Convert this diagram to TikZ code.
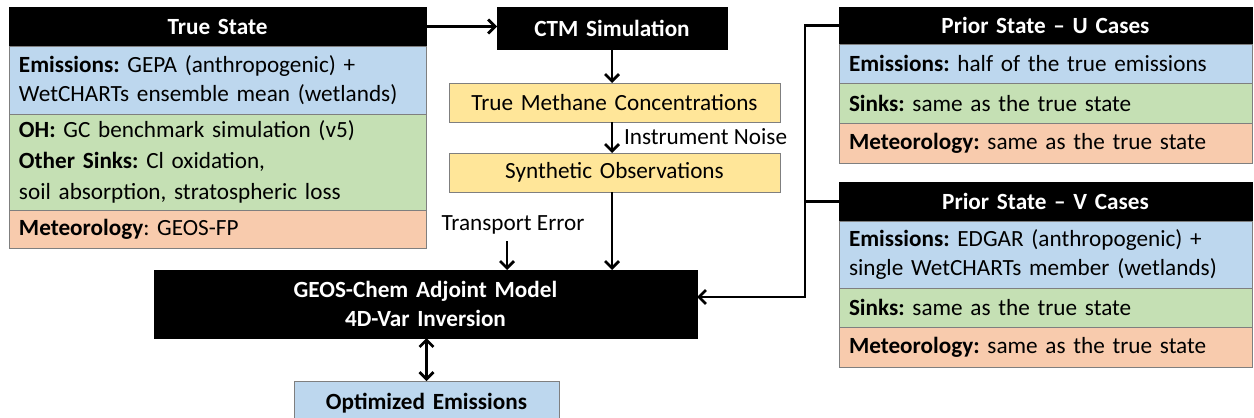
\documentclass[tikz,border=0pt]{standalone}
\usepackage{fontspec}
\setmainfont{Carlito}
\frenchspacing
\usetikzlibrary{arrows.meta}
\definecolor{cblue}{HTML}{BDD7EE}
\definecolor{cgreen}{HTML}{C5E0B4}
\definecolor{corange}{HTML}{F8CBAD}
\definecolor{cyellow}{HTML}{FFE699}
\definecolor{cedge}{HTML}{7F7F7F}
\newcommand{\fs}{\fontsize{23.2}{28.5}\selectfont\frenchspacing}
\begin{document}
\begin{tikzpicture}[x=1pt,y=-1pt,
  every node/.style={font=\fs, inner sep=0pt, outer sep=0pt},
  box/.style 2 args={anchor=north west, minimum width=#1, minimum height=#2, text width=#1-20pt, inner xsep=10pt},
  hdr/.style={fill=black, draw=black, text=white, font=\fs\bfseries, align=center},
  cell/.style={draw=cedge, line width=0.8pt, align=left},
  blu/.style={cell, fill=cblue},
  grn/.style={cell, fill=cgreen},
  orn/.style={cell, fill=corange},
  yel/.style={draw=cedge, line width=0.8pt, fill=cyellow, align=center},
  tip/.style={},
  arr/.style={line width=2.8pt, -{Straight Barb[length=7pt,width=14pt,line width=2.8pt]}},
  darr/.style={line width=2.8pt, {Straight Barb[length=7pt,width=14pt,line width=2.8pt]}-{Straight Barb[length=7pt,width=14pt,line width=2.8pt]}},
  line/.style={line width=2.8pt}
]
\useasboundingbox (0,0) rectangle (1254,418);
% True state
\node[box={417pt}{39pt}, hdr] (ts) at (9,7) {True State};
\node[box={417pt}{68pt}, blu] (tsE) at (9,46) {\textbf{Emissions:} GEPA (anthropogenic) +\\WetCHARTs ensemble mean (wetlands)};
\node[box={417pt}{96pt}, grn, font=\fontsize{23.2}{31}\selectfont] (tsS) at (9,114) {\textbf{OH:} GC benchmark simulation (v5)\\\textbf{Other Sinks:} Cl oxidation,\\soil absorption, stratospheric loss};
\node[box={417pt}{38pt}, orn] (tsM) at (9,210) {\textbf{Meteorology}: GEOS-FP};
% middle column
\node[box={230pt}{42pt}, hdr] (ctm) at (497,7) {CTM Simulation};
\node[box={331pt}{39pt}, yel] (tmc) at (449,83) {True Methane Concentrations};
\node[box={331pt}{39pt}, yel] (so) at (449,153) {Synthetic Observations};
\node[anchor=west] (noise) at (624,137) {Instrument Noise};
\node (te) at (513,225) {Transport Error};
\coordinate (teA) at (507,241);
\node[box={543pt}{68pt}, hdr] (geos) at (154,270) {GEOS-Chem Adjoint Model\\4D-Var Inversion};
\node[box={265pt}{45pt}, blu, align=center, font=\fs\bfseries] (oe) at (294,381) {Optimized Emissions};
% prior U
\node[box={413pt}{37pt}, hdr] (uH) at (839,7) {Prior State -- U Cases};
\node[box={413pt}{39pt}, blu] (uE) at (839,44) {\textbf{Emissions:} half of the true emissions};
\node[box={413pt}{40pt}, grn] (uS) at (839,83) {\textbf{Sinks:} same as the true state};
\node[box={413pt}{40pt}, orn] (uM) at (839,123) {\textbf{Meteorology:} same as the true state};
% prior V
\node[box={413pt}{39pt}, hdr] (vH) at (839,182) {Prior State -- V Cases};
\node[box={413pt}{67pt}, blu] (vE) at (839,221) {\textbf{Emissions:} EDGAR (anthropogenic) +\\single WetCHARTs member (wetlands)};
\node[box={413pt}{39pt}, grn] (vS) at (839,288) {\textbf{Sinks:} same as the true state};
\node[box={413pt}{40pt}, orn] (vM) at (839,327) {\textbf{Meteorology:} same as the true state};
% connectors
\coordinate (bend) at (805,297);
\draw[arr] (ts.east) -- (ts.east -| ctm.west);
\draw[arr] (ctm.south) -- (ctm.south |- tmc.north);
\draw[arr] (tmc.south -| ctm.south) -- (so.north -| ctm.south);
\draw[arr] (so.south -| ctm.south) -- (geos.north -| ctm.south);
\draw[arr] (teA) -- (teA |- geos.north);
\draw[arr] (uH.west) -| (bend) -- (bend -| geos.east);
\draw[line] (vH.west) -- (vH.west -| bend);
\draw[darr] (geos.south -| oe.north) -- (oe.north);
\end{tikzpicture}
\end{document}
